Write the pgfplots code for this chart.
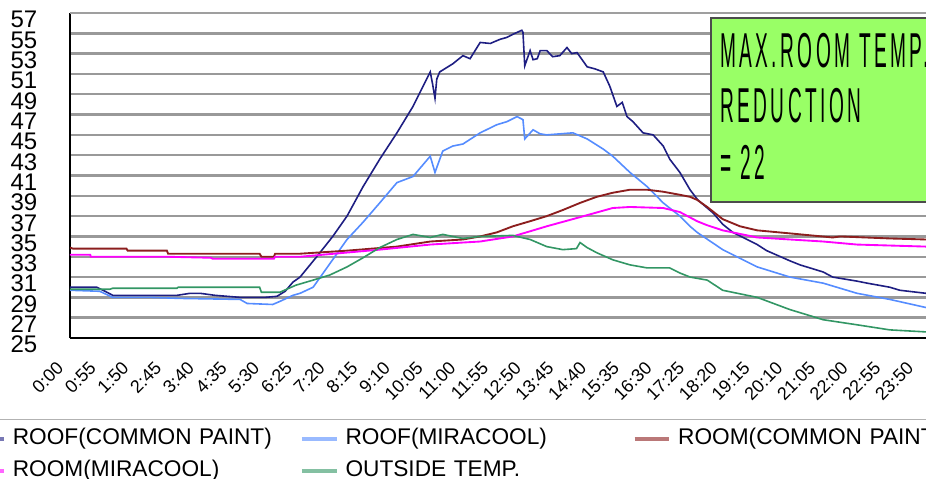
\documentclass[border=0pt]{standalone}
\usepackage{fontspec}
\setmainfont{Liberation Sans}
\newfontfamily\boxfont[LetterSpace=18]{Liberation Sans}
\usepackage{graphicx}
\usepackage{pgfplots}
\pgfplotsset{compat=1.18}
\definecolor{cNavy}{RGB}{30,30,130}
\definecolor{cBlue}{RGB}{85,140,255}
\definecolor{cBrown}{RGB}{140,30,30}
\definecolor{cMag}{RGB}{255,0,255}
\definecolor{cGreen}{RGB}{50,150,100}
\definecolor{cBox}{RGB}{153,255,102}
\begin{document}
\begin{tikzpicture}
\path[use as bounding box, clip] (0,0) rectangle (694.5pt,359.25pt);
\begin{axis}[
  at={(52.5pt,105.75pt)}, anchor=south west,
  scale only axis, width=642pt, height=243.75pt,
  xmin=0, xmax=1440, ymin=25, ymax=57,
  axis x line*=bottom, axis y line*=left,
  axis line style={-, black, line width=1.3pt},
  ytick={25,27,...,57},
  ymajorgrids, major grid style={draw=gray!80, line width=1.8pt},
  xtick={0,55,...,1430},
  xticklabels={0:00,0:55,1:50,2:45,3:40,4:35,5:30,6:25,7:20,8:15,9:10,10:05,11:00,11:55,12:50,13:45,14:40,15:35,16:30,17:25,18:20,19:15,20:10,21:05,22:00,22:55,23:50},
  major tick length=0pt,
  /pgf/number format/assume math mode=true,
  yticklabel style={font=\fontsize{18}{18}\selectfont, anchor=east, xshift=-21pt, yshift=-5pt},
  xticklabel style={font=\fontsize{13.5}{13.5}\selectfont, xshift=-5pt, yshift=-18pt, rotate=45, anchor=east},
  legend columns=3,
  legend cell align=left,
  legend style={at={(axis description cs:-0.1275,-0.249)}, anchor=north west, draw=gray!60, line width=1pt, fill=white, inner sep=4pt, row sep=3pt, font=\fontsize{17}{17}\selectfont, nodes={text width=210pt, text height=13pt, text depth=4pt, inner xsep=5pt, inner ysep=2pt, align=left}},
  legend image code/.code={\draw[#1, line width=3.5pt, opacity=0.6] (0pt,0pt) -- (26pt,0pt);},
]
\addplot[cNavy, line width=1.2pt] coordinates {
(0,30.0) (45,30.0) (59,29.6) (72,29.2) (135,29.2) (180,29.2) (202,29.4) (219,29.4) (244,29.2) (286,29.0) (328,29.0) (348,29.1) (362,29.6) (375,30.5) (387,31.0) (415,33.0) (442,35.0) (466,37.0) (493,39.9) (521,42.6) (550,45.2) (577,47.8) (594,49.8) (606,51.2) (610,50.0) (614,48.6) (617,50.5) (622,51.2) (644,52.0) (661,52.8) (673,52.5) (690,54.1) (707,54.0) (723,54.4) (735,54.6) (745,54.9) (760,55.3) (762,55.1) (765,51.8) (774,53.3) (779,52.4) (786,52.5) (791,53.3) (802,53.3) (812,52.7) (824,52.8) (836,53.6) (844,53.0) (853,53.1) (870,51.7) (883,51.5) (897,51.2) (908,49.8) (920,47.8) (929,48.2) (937,46.8) (947,46.3) (964,45.2) (981,45.0) (998,43.9) (1009,42.6) (1026,41.3) (1043,39.6) (1056,38.6) (1082,37.3) (1098,36.2) (1115,35.4) (1156,34.2) (1172,33.6) (1211,32.6) (1228,32.2) (1267,31.5) (1283,31.0) (1324,30.6) (1341,30.4) (1379,30.0) (1396,29.7) (1440,29.4)
};
\addlegendentry{ROOF(COMMON PAINT)}
\addplot[cBlue, line width=1.2pt] coordinates {
(0,29.7) (50,29.6) (72,29.0) (135,29.0) (185,28.9) (286,28.8) (298,28.4) (341,28.3) (353,28.6) (375,29.2) (387,29.4) (409,30.0) (426,31.4) (466,34.7) (493,36.4) (521,38.3) (550,40.3) (577,40.9) (606,42.9) (614,41.3) (627,43.4) (644,43.9) (661,44.1) (690,45.2) (718,46.0) (735,46.3) (752,46.8) (762,46.5) (765,44.6) (779,45.5) (791,45.1) (802,45.0) (846,45.2) (870,44.6) (897,43.6) (913,42.9) (942,41.3) (971,39.9) (998,38.3) (1026,37.0) (1043,36.0) (1055,35.4) (1098,33.7) (1156,32.0) (1211,31.0) (1267,30.4) (1324,29.4) (1379,28.8) (1440,28.0)
};
\addlegendentry{ROOF(MIRACOOL)}
\addplot[cBrown, line width=1.4pt] coordinates {
(0,33.9) (5,33.8) (95,33.8) (97,33.6) (163,33.6) (165,33.3) (319,33.3) (322,33.0) (343,33.0) (345,33.3) (387,33.3) (466,33.6) (550,34.0) (606,34.5) (661,34.7) (690,35.0) (718,35.4) (745,36.0) (774,36.5) (802,37.0) (829,37.6) (858,38.3) (886,38.9) (913,39.3) (942,39.6) (971,39.6) (998,39.4) (1026,39.1) (1043,38.9) (1055,38.6) (1072,37.9) (1098,36.7) (1127,36.0) (1156,35.6) (1211,35.3) (1283,34.9) (1296,35.0) (1379,34.8) (1440,34.7)
};
\addlegendentry{ROOM(COMMON PAINT)}
\addplot[cMag, line width=1.4pt] coordinates {
(0,33.2) (34,33.2) (35,33.0) (163,33.0) (237,32.9) (240,32.8) (343,32.8) (345,33.0) (387,33.0) (521,33.7) (606,34.2) (661,34.4) (690,34.5) (745,35.0) (802,36.0) (858,36.9) (913,37.8) (942,37.9) (998,37.8) (1026,37.4) (1055,36.5) (1072,36.1) (1098,35.6) (1156,34.9) (1211,34.7) (1267,34.5) (1324,34.2) (1440,34.0)
};
\addlegendentry{ROOM(MIRACOOL)}
\addplot[cGreen, line width=1.2pt] coordinates {
(0,29.8) (67,29.8) (72,29.9) (180,29.9) (182,30.0) (319,30.0) (322,29.5) (353,29.5) (380,30.2) (409,30.7) (437,31.2) (466,32.0) (493,32.9) (521,33.9) (550,34.7) (577,35.2) (606,34.9) (627,35.2) (661,34.8) (690,35.0) (745,35.1) (774,34.7) (802,34.0) (829,33.7) (852,33.8) (858,34.4) (870,33.9) (886,33.4) (913,32.7) (942,32.2) (971,31.9) (1009,31.9) (1026,31.4) (1043,31.0) (1072,30.7) (1098,29.7) (1156,29.0) (1211,27.8) (1267,26.8) (1324,26.3) (1379,25.8) (1440,25.6)
};
\addlegendentry{OUTSIDE TEMP.}
\draw[gray!75, line width=2.2pt] (rel axis cs:0,1) -- (rel axis cs:1,1);
\end{axis}
\draw[fill=cBox, draw=black!70, line width=0.8pt] (533.25pt,207.75pt) rectangle (720pt,345.75pt);
\node[anchor=base west, inner sep=0pt] at (540pt,308.25pt) {\scalebox{0.39}[1]{\fontsize{36.75}{36.75}\boxfont MAX.ROOM TEMP.}};
\node[anchor=base west, inner sep=0pt] at (540pt,267pt) {\scalebox{0.39}[1]{\fontsize{36.75}{36.75}\boxfont REDUCTION}};
\node[anchor=base west, inner sep=0pt] at (540pt,224.25pt) {\scalebox{0.39}[1]{\fontsize{36.75}{36.75}\boxfont = 22}};
\end{tikzpicture}
\end{document}
